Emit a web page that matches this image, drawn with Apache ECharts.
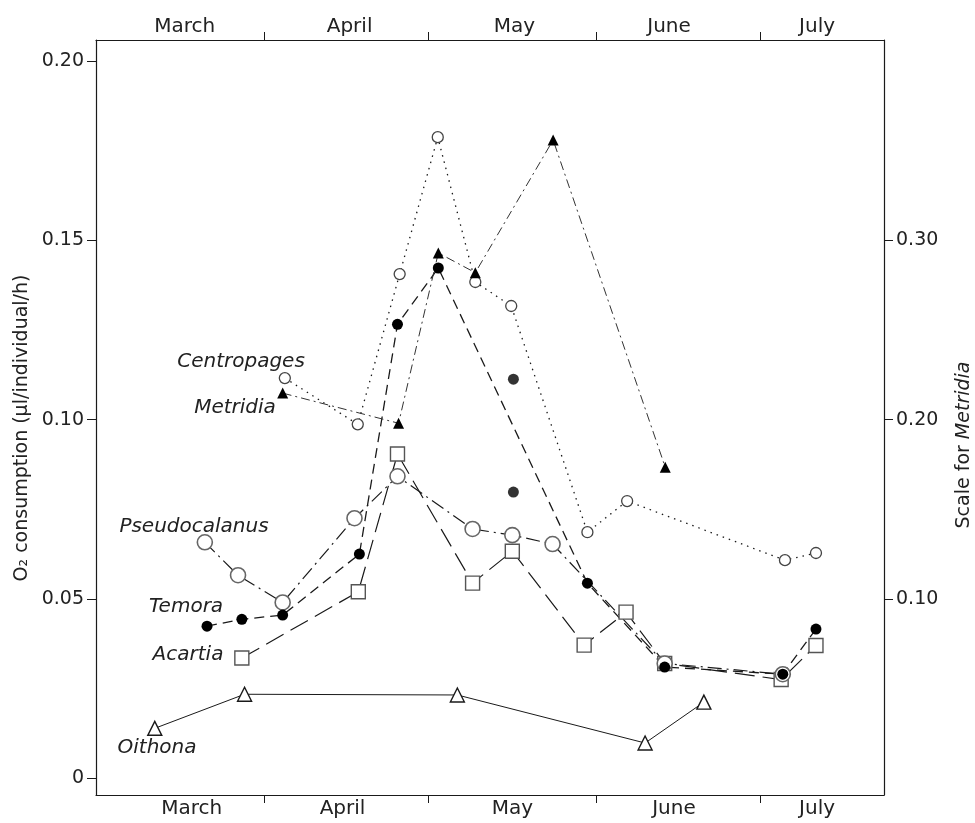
<!DOCTYPE html>
<html>
<head>
<meta charset="utf-8">
<script src="https://cdn.jsdelivr.net/npm/echarts/dist/echarts.min.js"></script>
<style>
  html, body { margin: 0; padding: 0; background: #fff; }
  #chart { width: 975px; height: 823px; }
</style>
</head>
<body>
<div id="chart"></div>
<script>
// Time is counted in days from 1 March.
const monthNames = ['March', 'April', 'May', 'June', 'July'];
const monthStarts = [31, 61, 92, 122];          // 1 Apr, 1 May, 1 Jun, 1 Jul
const monthLabelDaysBottom = [17.6, 45.3, 76.5, 106.2, 132.5];
const monthLabelDaysTop    = [16.3, 46.6, 76.9, 105.3, 132.5];

const leftTicks = [0, 0.05, 0.10, 0.15, 0.20];
const rightTicks = [0.10, 0.20, 0.30];

// O2 consumption, µl per individual per hour
const oithonaDays = [10.8, 27.3, 66.4, 100.9, 111.7];
const oithonaO2   = [0.0139, 0.0234, 0.0232, 0.0098, 0.0212];

const acartiaDays = [26.8, 48.2, 55.4, 69.2, 76.5, 89.7, 97.4, 104.5, 125.9, 132.3];
const acartiaO2   = [0.0335, 0.052, 0.0904, 0.0544, 0.0633, 0.0371, 0.0463, 0.032, 0.0275, 0.037];

const temoraDays = [20.4, 26.8, 34.3, 48.4, 55.4, 62.9, 90.3, 104.5, 126.2, 132.3];
const temoraO2   = [0.0424, 0.0443, 0.0455, 0.0625, 0.1266, 0.1423, 0.0544, 0.031, 0.029, 0.0416];
const temoraLooseDays = [76.7, 76.7];
const temoraLooseO2   = [0.1113, 0.0798];

const pseudoDays = [20.0, 26.1, 34.3, 47.5, 55.4, 69.2, 76.5, 83.9, 104.5, 126.2];
const pseudoO2   = [0.0658, 0.0566, 0.049, 0.0725, 0.0842, 0.0695, 0.0678, 0.0653, 0.032, 0.029];

const centroDays = [34.7, 48.1, 55.8, 62.8, 69.7, 76.3, 90.3, 97.6, 126.6, 132.3];
const centroO2   = [0.1116, 0.0987, 0.1406, 0.1788, 0.1384, 0.1317, 0.0686, 0.0773, 0.0608, 0.0628];

// Metridia is read on the right-hand scale
const metridiaDays = [34.3, 55.6, 62.9, 69.7, 84.0, 104.6];
const metridiaO2   = [0.2148, 0.198, 0.293, 0.282, 0.356, 0.1735];

const pairs = (xs, ys) => xs.map((x, i) => [x, ys[i]]);

const INK = '#1a1a1a';
const TEXT = '#222';
const FONT = '"DejaVu Sans", sans-serif';

const monthAxis = (position, labelDays) => ({
  type: 'value',
  position: position,
  min: 0,
  max: 144.8,
  axisLine: { show: true, onZero: false, lineStyle: { color: INK, width: 1.2 } },
  axisTick: { show: true, inside: false, customValues: monthStarts, length: 8, lineStyle: { color: INK, width: 1 } },
  axisLabel: {
    customValues: labelDays,
    margin: position === 'top' ? 3 : 4,
    color: TEXT,
    fontFamily: FONT,
    fontSize: 20,
    formatter: (v) => monthNames[labelDays.indexOf(v)] || ''
  },
  splitLine: { show: false }
});

const speciesLabel = (text, x, y) => ({
  type: 'text', x: x, y: y,
  style: { text: text, fontFamily: FONT, fontStyle: 'italic', fontSize: 20, fill: TEXT, align: 'center', verticalAlign: 'middle' }
});

const option = {
  animation: false,
  backgroundColor: '#fff',
  grid: { left: 96, right: 91, top: 40, bottom: 28, containLabel: false },
  xAxis: [monthAxis('bottom', monthLabelDaysBottom), monthAxis('top', monthLabelDaysTop)],
  yAxis: [
    {
      type: 'value', position: 'left', min: -0.0047, max: 0.2059,
      axisLine: { show: true, onZero: false, lineStyle: { color: INK, width: 1.2 } },
      axisTick: { show: true, inside: false, customValues: leftTicks, length: 9, lineStyle: { color: INK } },
      axisLabel: {
        customValues: leftTicks, margin: 12, color: TEXT, fontFamily: FONT, fontSize: 19,
        formatter: (v) => (v === 0 ? '0' : v.toFixed(2))
      },
      splitLine: { show: false }
    },
    {
      type: 'value', position: 'right', min: -0.0094, max: 0.4118,
      axisLine: { show: true, onZero: false, lineStyle: { color: INK, width: 1.2 } },
      axisTick: { show: true, inside: false, customValues: rightTicks, length: 9, lineStyle: { color: INK } },
      axisLabel: {
        customValues: rightTicks, margin: 12, color: TEXT, fontFamily: FONT, fontSize: 19,
        formatter: (v) => v.toFixed(2)
      },
      splitLine: { show: false }
    }
  ],
  series: [
    {
      name: 'Oithona', type: 'line', data: pairs(oithonaDays, oithonaO2),
      symbol: 'triangle', symbolSize: 14,
      itemStyle: { color: '#fff', borderColor: INK, borderWidth: 1.4 },
      lineStyle: { color: INK, width: 1 }
    },
    {
      name: 'Acartia', type: 'line', data: pairs(acartiaDays, acartiaO2),
      symbol: 'rect', symbolSize: 14,
      itemStyle: { color: '#fff', borderColor: '#555', borderWidth: 1.4 },
      lineStyle: { color: INK, width: 1.2, type: [20, 8] }
    },
    {
      name: 'Pseudocalanus', type: 'line', data: pairs(pseudoDays, pseudoO2),
      symbol: 'circle', symbolSize: 15,
      itemStyle: { color: '#fff', borderColor: '#666', borderWidth: 1.6 },
      lineStyle: { color: INK, width: 1.2, type: [14, 5, 2, 5] }
    },
    {
      name: 'Temora', type: 'line', data: pairs(temoraDays, temoraO2),
      symbol: 'circle', symbolSize: 11,
      itemStyle: { color: '#000', borderColor: '#000', borderWidth: 0 },
      lineStyle: { color: INK, width: 1.3, type: [10, 6] }
    },
    {
      name: 'Temora single', type: 'scatter', data: pairs(temoraLooseDays, temoraLooseO2),
      symbol: 'circle', symbolSize: 11,
      itemStyle: { color: '#000' }
    },
    {
      name: 'Centropages', type: 'line', data: pairs(centroDays, centroO2),
      symbol: 'circle', symbolSize: 11,
      itemStyle: { color: '#fff', borderColor: '#444', borderWidth: 1.3 },
      lineStyle: { color: INK, width: 1.3, type: [1.5, 5] }
    },
    {
      name: 'Metridia', type: 'line', yAxisIndex: 1, data: pairs(metridiaDays, metridiaO2),
      symbol: 'triangle', symbolSize: 11,
      itemStyle: { color: '#000', borderColor: '#000', borderWidth: 0 },
      lineStyle: { color: '#333', width: 1, type: [9, 4, 2, 4] }
    }
  ],
  graphic: [
    {
      type: 'text', x: 22, y: 428, rotation: Math.PI / 2,
      style: {
        text: 'O\u2082 consumption (\u00b5l/individual/h)',
        fontFamily: FONT, fontSize: 19, fill: TEXT, align: 'center', verticalAlign: 'middle'
      }
    },
    {
      type: 'text', x: 964, y: 445, rotation: Math.PI / 2,
      style: {
        text: 'Scale for {i|Metridia}',
        rich: { i: { fontStyle: 'italic', fontFamily: FONT, fontSize: 19, fill: TEXT } },
        fontFamily: FONT, fontSize: 19, fill: TEXT, align: 'center', verticalAlign: 'middle'
      }
    },
    speciesLabel('Centropages', 241, 362),
    speciesLabel('Metridia', 235, 408),
    speciesLabel('Pseudocalanus', 194, 527),
    speciesLabel('Temora', 186, 607),
    speciesLabel('Acartia', 188, 655),
    speciesLabel('Oithona', 157, 748)
  ]
};

const chart = echarts.init(document.getElementById('chart'), null, { renderer: 'canvas' });
chart.setOption(option);
</script>
</body>
</html>
